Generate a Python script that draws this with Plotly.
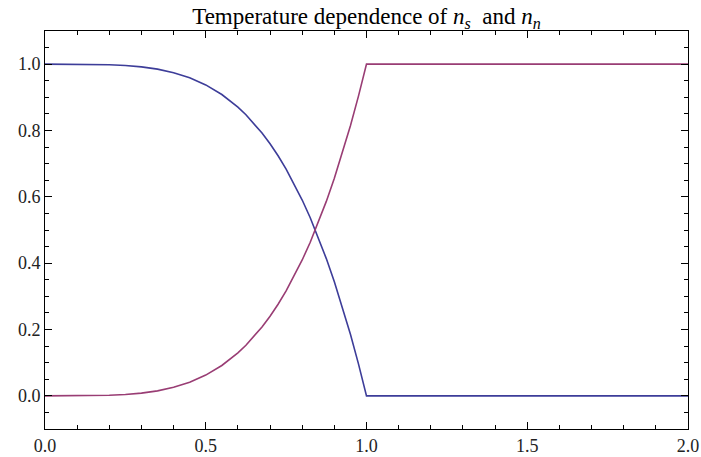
import plotly.graph_objects as go

t_vals = [0.0, 0.05, 0.1, 0.15, 0.2, 0.25, 0.3, 0.35, 0.4, 0.45, 0.5, 0.55, 0.6,
          0.625, 0.65, 0.675, 0.7, 0.725, 0.75, 0.775, 0.8, 0.825, 0.85, 0.875,
          0.9, 0.925, 0.95, 0.975, 1.0, 1.5, 2.0]
ns_vals = [1.0, 1.0, 0.9999, 0.9995, 0.9984, 0.9961, 0.9919, 0.985, 0.9744, 0.959,
           0.9375, 0.9085, 0.8704, 0.8474, 0.8215, 0.7924, 0.7599, 0.7238, 0.6836,
           0.6393, 0.5904, 0.5368, 0.478, 0.4138, 0.3439, 0.268, 0.1855, 0.0963,
           0.0, 0.0, 0.0]
nn_vals = [0.0, 0.0, 0.0001, 0.0005, 0.0016, 0.0039, 0.0081, 0.015, 0.0256, 0.041,
           0.0625, 0.0915, 0.1296, 0.1526, 0.1785, 0.2076, 0.2401, 0.2762, 0.3164,
           0.3607, 0.4096, 0.4632, 0.522, 0.5862, 0.6561, 0.732, 0.8145, 0.9037,
           1.0, 1.0, 1.0]

blue = "#3d3d99"
purple = "#993d74"

fig = go.Figure()
fig.add_trace(go.Scatter(x=t_vals, y=ns_vals, mode="lines",
                         line=dict(color=blue, width=1.6)))
fig.add_trace(go.Scatter(x=t_vals, y=nn_vals, mode="lines",
                         line=dict(color=purple, width=1.6)))

axis_common = dict(
    showgrid=False, zeroline=False, showline=True, linecolor="black", linewidth=1,
    mirror="allticks", ticks="inside", ticklen=7, tickwidth=1, tickcolor="black",
    automargin=False,
    tickfont=dict(family="Liberation Serif", size=18, color="#222"),
)

fig.update_xaxes(range=[0, 2], dtick=0.5, tickformat=".1f",
                 minor=dict(dtick=0.1, ticklen=4, ticks="inside", tickcolor="black"),
                 **axis_common)
fig.update_yaxes(range=[-0.1, 1.1], dtick=0.2, tick0=0, tickformat=".1f",
                 minor=dict(dtick=0.05, tick0=0, ticklen=4, ticks="inside", tickcolor="black"),
                 **axis_common)

fig.update_layout(
    width=701, height=457,
    margin=dict(l=45, r=13, t=31, b=28, autoexpand=False),
    paper_bgcolor="white", plot_bgcolor="white",
    showlegend=False,
    title=dict(text="Temperature dependence of <i>n</i><sub><i>s</i></sub>  and <i>n</i><sub><i>n</i></sub>",
               x=0.5, xref="paper", xanchor="center", y=0.948, yanchor="bottom",
               font=dict(family="Liberation Serif", size=23, color="black")),
)

fig.write_html(
    "out.html",
    config={"displayModeBar": False},
    post_script="document.body.style.margin='0';document.body.style.overflow='hidden';",
)
